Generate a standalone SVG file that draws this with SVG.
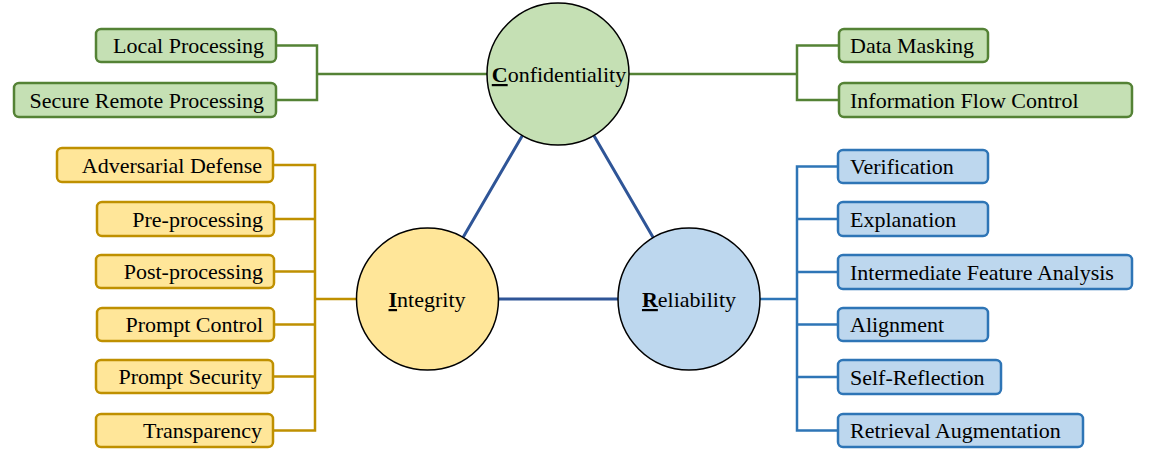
<svg xmlns="http://www.w3.org/2000/svg" width="1156" height="460" viewBox="0 0 1156 460">
<style>
text{font-family:'Liberation Serif','Times New Roman','DejaVu Serif',serif;font-size:22px;fill:#000}
.g rect{fill:#C5E0B4;stroke:#548235;stroke-width:2.5}
.y rect{fill:#FFE699;stroke:#BF9000;stroke-width:2.5}
.b rect{fill:#BDD7EE;stroke:#2E75B6;stroke-width:2.5}
.circ{stroke:#000;stroke-width:1.5}
.r{text-anchor:end}
.c{text-anchor:middle}
.u{font-weight:bold;text-decoration:underline}
.cg{stroke:#548235;stroke-width:2.5;fill:none}
.cy{stroke:#BF9000;stroke-width:2.5;fill:none}
.cb{stroke:#2E75B6;stroke-width:2.5;fill:none}
.ct{stroke:#2F5597;stroke-width:3;fill:none}
</style>
<rect width="1156" height="460" fill="#fff"/>
<g id="connectors">
<path class="cg" d="M276 45.5H317V100H276M317 74H487"/>
<path class="cg" d="M839 45.5H797V100H839M797 74H629"/>
<path class="cy" d="M274 165H315V430.5H274M274 219H315M274 271.5H315M274 324.5H315M274 376.5H315M315 299H357"/>
<path class="cb" d="M838 166.5H797V430.5H838M838 219H797M838 272H797M838 324.5H797M838 377H797M797 299H760"/>
<path class="ct" d="M522.4 135.4L463 237.6M593.7 135.3L653.3 237.7M498.5 299H618"/>
</g>
<g font-family="Liberation Serif, serif" font-size="22">
<g id="confidentiality">
<circle class="circ" cx="558" cy="74" r="71" fill="#C5E0B4"/>
<text class="c" x="559" y="82"><tspan class="u">C</tspan>onfidentiality</text>
</g>
<g id="integrity">
<circle class="circ" cx="427.5" cy="299" r="71" fill="#FFE699"/>
<text class="c" x="427" y="307"><tspan class="u">I</tspan>ntegrity</text>
</g>
<g id="reliability">
<circle class="circ" cx="689" cy="299" r="71" fill="#BDD7EE"/>
<text class="c" x="689" y="307"><tspan class="u">R</tspan>eliability</text>
</g>
<g id="local-processing" class="g"><rect x="96" y="29" width="180" height="33" rx="5"/><text class="r" x="264" y="53">Local Processing</text></g>
<g id="secure-remote-processing" class="g"><rect x="14" y="83" width="262" height="34" rx="5"/><text class="r" x="264" y="107.5">Secure Remote Processing</text></g>
<g id="data-masking" class="g"><rect x="839" y="29" width="149" height="33" rx="5"/><text x="850" y="53">Data Masking</text></g>
<g id="information-flow-control" class="g"><rect x="839" y="83" width="293" height="34" rx="5"/><text x="850" y="107.5">Information Flow Control</text></g>
<g id="adversarial-defense" class="y"><rect x="57" y="148" width="216" height="34" rx="5"/><text class="r" x="262" y="172.5">Adversarial Defense</text></g>
<g id="pre-processing" class="y"><rect x="97" y="202" width="177" height="34" rx="5"/><text class="r" x="263" y="226.5">Pre-processing</text></g>
<g id="post-processing" class="y"><rect x="96" y="255" width="178" height="33" rx="5"/><text class="r" x="263" y="279">Post-processing</text></g>
<g id="prompt-control" class="y"><rect x="97" y="308" width="177" height="33" rx="5"/><text class="r" x="263" y="332">Prompt Control</text></g>
<g id="prompt-security" class="y"><rect x="96" y="360" width="177" height="33" rx="5"/><text class="r" x="262" y="384">Prompt Security</text></g>
<g id="transparency" class="y"><rect x="96" y="414" width="177" height="33" rx="5"/><text class="r" x="262" y="438">Transparency</text></g>
<g id="verification" class="b"><rect x="838" y="150" width="150" height="33" rx="5"/><text x="850" y="174">Verification</text></g>
<g id="explanation" class="b"><rect x="838" y="202" width="150" height="34" rx="5"/><text x="850" y="226.5">Explanation</text></g>
<g id="intermediate-feature-analysis" class="b"><rect x="838" y="255" width="294" height="34" rx="5"/><text x="850" y="279.5">Intermediate Feature Analysis</text></g>
<g id="alignment" class="b"><rect x="838" y="308" width="150" height="33" rx="5"/><text x="850" y="332">Alignment</text></g>
<g id="self-reflection" class="b"><rect x="838" y="360" width="163" height="34" rx="5"/><text x="850" y="384.5">Self-Reflection</text></g>
<g id="retrieval-augmentation" class="b"><rect x="838" y="414" width="245" height="33" rx="5"/><text x="850" y="438">Retrieval Augmentation</text></g>
</g>
</svg>
